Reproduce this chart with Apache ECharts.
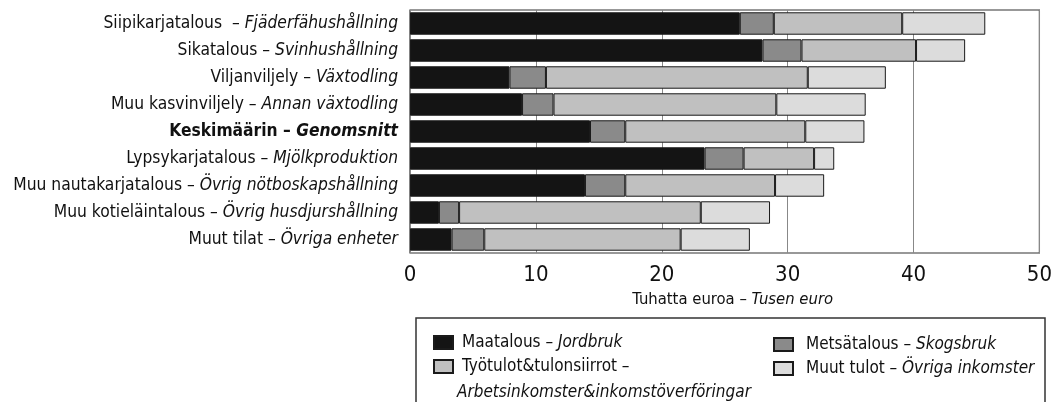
<!DOCTYPE html>
<html>
<head>
<meta charset="utf-8">
<script src="https://cdn.jsdelivr.net/npm/echarts@6/dist/echarts.min.js"></script>
<style>
  html, body { margin: 0; padding: 0; background: #fff; }
  #chart { width: 1055px; height: 402px; }
</style>
</head>
<body>
<div id="chart"></div>
<script>
const FONT = "'Liberation Sans Narrow', 'DejaVu Sans Condensed', sans-serif";

// categories (Finnish / Swedish)
const catFi = ['Siipikarjatalous  ', 'Sikatalous ', 'Viljanviljely ', 'Muu kasvinviljely ', 'Keskimäärin ',
  'Lypsykarjatalous ', 'Muu nautakarjatalous ', 'Muu kotieläintalous ', 'Muut tilat '];
const catSv = ['Fjäderfähushållning', 'Svinhushållning', 'Växtodling', 'Annan växtodling', 'Genomsnitt',
  'Mjölkproduktion', 'Övrig nötboskapshållning', 'Övrig husdjurshållning', 'Övriga enheter'];

// series values, tuhatta euroa
const maatalous = [26.2, 28.0, 7.9, 8.9, 14.3, 23.4, 13.9, 2.3, 3.3];
const metsatalous = [2.7, 3.1, 2.9, 2.5, 2.8, 3.1, 3.2, 1.6, 2.6];
const tyotulot = [10.2, 9.1, 20.8, 17.7, 14.3, 5.6, 11.9, 19.2, 15.6];
const muutTulot = [6.6, 3.9, 6.2, 7.1, 4.7, 1.6, 3.9, 5.5, 5.5];

const seriesNames = ['Maatalous – Jordbruk', 'Metsätalous – Skogsbruk',
  'Työtulot&tulonsiirrot – ', 'Muut tulot – Övriga inkomster'];
const xTicks = [0, 10, 20, 30, 40, 50];

const categories = catFi.map((f, i) => f + '– ' + catSv[i]);
const colors = ['#141414', '#8a8a8a', '#c0c0c0', '#dcdcdc'];
const values = [maatalous, metsatalous, tyotulot, muutTulot];

const chart = echarts.init(document.getElementById('chart'));

function legendFmt(name) {
  const p = name.split('– ');
  return p[0] + '– {i|' + (p[1] || '') + '}';
}

const LS = 17; // legend font size
function legendText(padLeft) {
  return {
    fontSize: LS, fontFamily: FONT, color: '#111', padding: [0, 0, 0, padLeft],
    rich: { i: { fontStyle: 'italic', fontSize: LS, fontFamily: FONT, padding: [0, 0, 0, 0] } }
  };
}

const option = {
  animation: false,
  textStyle: { fontFamily: FONT, color: '#111' },
  grid: {
    left: 410, right: 12, top: 10, bottom: 149,
    show: true, borderColor: '#333', borderWidth: 1.2, backgroundColor: 'transparent'
  },
  xAxis: {
    type: 'value',
    min: xTicks[0], max: xTicks[xTicks.length - 1], interval: 10,
    axisLine: { show: false },
    axisTick: { show: false },
    splitLine: { show: true, lineStyle: { color: '#888', width: 1 } },
    axisLabel: { fontSize: 22, color: '#111', margin: 11, fontFamily: FONT },
    name: 'Tuhatta euroa – {i|Tusen euro}',
    nameLocation: 'middle',
    nameGap: 38,
    nameTextStyle: {
      fontSize: 16.5, color: '#111', fontFamily: FONT, verticalAlign: 'top',
      padding: [0, 0, 0, 16],
      rich: { i: { fontStyle: 'italic', fontSize: 16.5, fontFamily: FONT } }
    }
  },
  yAxis: {
    type: 'category',
    inverse: true,
    data: categories,
    axisLine: { show: false },
    axisTick: { show: false },
    axisLabel: {
      margin: 12,
      fontSize: 17.3,
      color: '#111',
      fontFamily: FONT,
      formatter: function (v, i) {
        if (i === 4) return '{b|' + catFi[i] + '– }{bi|' + catSv[i] + '}';
        return '{n|' + catFi[i] + '– }{i|' + catSv[i] + '}';
      },
      rich: {
        n: { fontSize: 17.3, fontFamily: FONT, color: '#111' },
        i: { fontSize: 17.3, fontFamily: FONT, fontStyle: 'italic', color: '#111' },
        b: { fontSize: 17.3, fontFamily: FONT, fontWeight: 'bold', color: '#111' },
        bi: { fontSize: 17.3, fontFamily: FONT, fontWeight: 'bold', fontStyle: 'italic', color: '#111' }
      }
    }
  },
  legend: [{
    data: [seriesNames[0], seriesNames[2]],
    orient: 'vertical', left: 428, top: 329,
    itemWidth: 19, itemHeight: 13, itemGap: 7, icon: 'rect',
    formatter: legendFmt,
    textStyle: legendText(4)
  }, {
    data: [seriesNames[1], seriesNames[3]],
    orient: 'vertical', left: 768, top: 331,
    itemWidth: 19, itemHeight: 13, itemGap: 7, icon: 'rect',
    formatter: legendFmt,
    textStyle: legendText(8)
  }],
  graphic: [{
    type: 'rect',
    shape: { x: 416, y: 318, width: 629, height: 100 },
    style: { fill: 'none', stroke: '#333', lineWidth: 1.5 }
  }, {
    type: 'text',
    left: 457, top: 384,
    style: {
      text: 'Arbetsinkomster&inkomstöverföringar',
      font: 'italic ' + LS + 'px ' + FONT, fill: '#111'
    }
  }],
  series: values.map((arr, k) => ({
    name: seriesNames[k],
    type: 'bar',
    stack: 'tot',
    barCategoryGap: '17%',
    data: arr,
    itemStyle: { color: colors[k], borderColor: '#1a1a1a', borderWidth: 1 }
  }))
};

chart.setOption(option);
window.addEventListener('resize', function () { chart.resize(); });
</script>
</body>
</html>
